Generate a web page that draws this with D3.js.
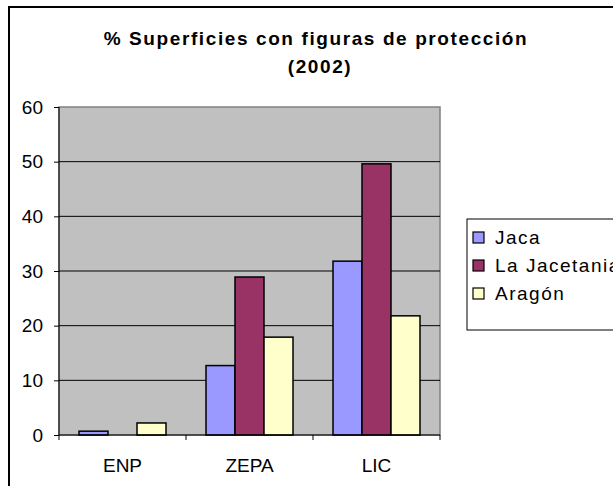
<!DOCTYPE html>
<html>
<head>
<meta charset="utf-8">
<script src="https://cdn.jsdelivr.net/npm/d3@7"></script>
<style>
  body { margin: 0; background: #fff; }
  svg text { font-family: "Liberation Sans", Arial, sans-serif; fill: #000; }
</style>
</head>
<body>
<div id="container"><svg></svg></div>
<script>
let width = 613;
let height = 486;

// data
let categories = ['ENP', 'ZEPA', 'LIC'];
let series_names = ['Jaca', 'La Jacetania', 'Aragón'];
let jaca = [0.7, 12.7, 31.8];
let jacetania = [0, 28.9, 49.6];
let aragon = [2.2, 17.9, 21.8];
let y_ticks = [0, 10, 20, 30, 40, 50, 60];
let colors = ['#9999ff', '#993366', '#ffffcc'];

function draw_bar() {
    let series = [jaca, jacetania, aragon];
    let plot = {'left': 59, 'right': 440, 'top': 107, 'bottom': 435};

    let svg = d3.select('#container').select('svg')
        .attr('width', width)
        .attr('height', height);

    // outer frame
    svg.append('rect')
        .attr('x', 9).attr('y', 7)
        .attr('width', 640).attr('height', 520)
        .attr('fill', '#fff')
        .attr('stroke', '#000')
        .attr('stroke-width', 2);

    // title
    let title = svg.append('text')
        .attr('text-anchor', 'middle')
        .style('font-weight', 'bold')
        .style('font-size', '19px')
        .style('letter-spacing', '1.6px');
    title.append('tspan').attr('x', 316).attr('y', 45).text('% Superficies con figuras de protección');
    title.append('tspan').attr('x', 320).attr('y', 73).text('(2002)');

    let x = d3.scaleBand()
        .domain(categories)
        .range([plot.left, plot.right]);
    let y = d3.scaleLinear()
        .domain([0, 60])
        .range([plot.bottom, plot.top]);
    let inner_pad = 20;
    let xs = d3.scaleBand()
        .domain(series_names)
        .range([inner_pad, x.bandwidth() - inner_pad]);

    // plot background
    svg.append('rect')
        .attr('x', plot.left).attr('y', plot.top)
        .attr('width', plot.right - plot.left)
        .attr('height', plot.bottom - plot.top)
        .attr('fill', '#c0c0c0')
        .attr('stroke', '#808080')
        .attr('stroke-width', 1.5);

    // grid lines
    svg.append('g')
        .selectAll('line')
        .data(y_ticks.filter(d => d > 0 && d < 60))
        .enter()
        .append('line')
        .attr('x1', plot.left).attr('x2', plot.right)
        .attr('y1', d => y(d)).attr('y2', d => y(d))
        .attr('stroke', '#000')
        .attr('stroke-width', 1);

    // bars
    for (let s = 0; s < series.length; ++s) {
        svg.append('g')
            .selectAll('rect')
            .data(series[s])
            .enter()
            .append('rect')
            .attr('x', (d, i) => x(categories[i]) + xs(series_names[s]))
            .attr('y', d => y(d))
            .attr('width', xs.bandwidth())
            .attr('height', d => y(0) - y(d))
            .attr('fill', colors[s])
            .attr('stroke', '#000')
            .attr('stroke-width', d => d > 0 ? 1.5 : 0);
    }

    // y axis
    let yAxis = d3.axisLeft(y)
        .tickValues(y_ticks)
        .tickSize(5)
        .tickPadding(11);
    let gy = svg.append('g')
        .attr('transform', `translate(${plot.left},0)`)
        .call(yAxis);
    gy.select('.domain').attr('stroke', '#000').attr('d', `M0,${plot.top}V${plot.bottom}`);
    gy.selectAll('.tick line').attr('stroke', '#000');
    gy.selectAll('text').style('font-size', '19px').attr('font-family', null);

    // x axis
    let gx = svg.append('g')
        .attr('transform', `translate(0,${plot.bottom})`);
    gx.append('line')
        .attr('x1', plot.left).attr('x2', plot.right)
        .attr('stroke', '#000');
    gx.selectAll('.tk')
        .data(categories.map(c => x(c)).concat([plot.right]))
        .enter()
        .append('line')
        .attr('x1', d => d).attr('x2', d => d)
        .attr('y1', 0).attr('y2', 5)
        .attr('stroke', '#000');
    gx.selectAll('.lbl')
        .data(categories)
        .enter()
        .append('text')
        .attr('x', d => x(d) + x.bandwidth() / 2)
        .attr('y', 37)
        .attr('text-anchor', 'middle')
        .style('font-size', '19px')
        .text(d => d);

    // legend
    let legend = svg.append('g');
    legend.append('rect')
        .attr('x', 467).attr('y', 219)
        .attr('width', 200).attr('height', 111)
        .attr('fill', '#fff')
        .attr('stroke', '#000')
        .attr('stroke-width', 1);
    let items = legend.selectAll('.item')
        .data(series_names)
        .enter()
        .append('g')
        .attr('transform', (d, i) => `translate(473,${237 + i * 28})`);
    items.append('rect')
        .attr('x', 0).attr('y', -5)
        .attr('width', 11).attr('height', 11)
        .attr('fill', (d, i) => colors[i])
        .attr('stroke', '#000')
        .attr('stroke-width', 1.2);
    items.append('text')
        .attr('x', 22)
        .attr('y', 7)
        .style('font-size', '19px')
        .style('letter-spacing', '1.5px')
        .text(d => d);
}

draw_bar();
</script>
</body>
</html>
